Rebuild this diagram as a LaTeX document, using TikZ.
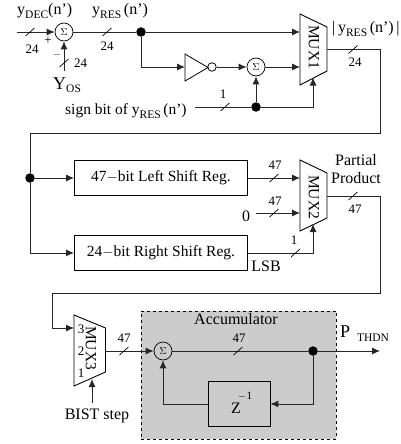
\documentclass[tikz,border=0pt]{standalone}
\usepackage{fontspec}
\setmainfont{Liberation Serif}
\usetikzlibrary{arrows.meta,calc}
\tikzset{
  wire/.style={line width=0.9pt,draw=black!85},
  arr/.style={wire,-{Latex[length=8pt,width=7pt]}},
  sumnode/.style={circle,draw,line width=0.7pt,minimum size=18pt,inner sep=0pt,font=\fontsize{10}{10}\selectfont},
  dotnode/.style={circle,fill=black,minimum size=9.5pt,inner sep=0pt},
  regbox/.style={draw,line width=0.9pt,anchor=north west,inner sep=0pt,font=\fontsize{15.5}{15.5}\selectfont},
  muxshape/.style={draw,line width=0.9pt},
  muxlabel/.style={rotate=-90,font=\fontsize{15.5}{16}\selectfont,inner sep=0pt},
  lab/.style={font=\fontsize{16}{16}\selectfont,inner sep=0pt},
  num/.style={font=\fontsize{13}{13}\selectfont,inner sep=0pt},
  slashmark/.style={line width=0.7pt,draw=black}
}
\newcommand{\slashat}[2]{\draw[slashmark] (#1-4.5,#2+4) -- (#1+4.5,#2-4);}
\newcommand{\sbs}[1]{\raisebox{-3.5pt}{\fontsize{11.5}{12}\selectfont #1}}
\begin{document}
\begin{tikzpicture}[x=1pt,y=-1pt]
\useasboundingbox (0,0) rectangle (401,444);
% accumulator background
\node[draw,dashed,fill=black!20,line width=0.9pt,anchor=north west,minimum width=195pt,minimum height=128.5pt,inner sep=0pt] (acc) at (141,310.5) {};
% mux shapes
\draw[muxshape] (300,14) coordinate (m1tl) -- (327,27) -- (327,71) -- (300,85) coordinate (m1bl) -- cycle;
\draw[muxshape] (300,160) coordinate (m2tl) -- (327,173) -- (327,218) -- (300,231) coordinate (m2bl) -- cycle;
\draw[muxshape] (74,315) coordinate (m3tl) -- (105.5,328) -- (105.5,372) -- (74,386) coordinate (m3bl) -- cycle;
\node[muxlabel] (m1t) at (314,47) {MUX1};
\node[muxlabel] (m2t) at (314,197) {MUX2};
\node[muxlabel] (m3t) at (91,348) {MUX3};
\node[num] (n3) at (81,329) {3};
\node[num] (n2) at (81,351) {2};
\node[num] (n1) at (81,373) {1};
% ports
\coordinate (m1a) at (300,32);
\coordinate (m1b) at (300,67);
\coordinate (m1s) at (313,77.5);
\coordinate (m1o) at (327,49.5);
\coordinate (m2a) at (300,178);
\coordinate (m2b) at (300,213);
\coordinate (m2s) at (313,224);
\coordinate (m2o) at (327,196);
\coordinate (m3a) at (74,328);
\coordinate (m3s) at (92,379);
\coordinate (m3o) at (105.5,351);
% nodes
\node[sumnode] (s1) at (64,32) {$\Sigma$};
\node[sumnode] (s2) at (256,67) {$\Sigma$};
\node[sumnode] (s3) at (163,351) {$\Sigma$};
\node[dotnode] (d1) at (141,32) {};
\node[dotnode] (d2) at (256,107) {};
\node[dotnode] (d3) at (30,178) {};
\node[dotnode] (d4) at (313,351) {};
\draw[line width=0.8pt] (185,54) coordinate (invt) -- (208,67.5) coordinate (inva) -- (185,81) coordinate (invb) -- cycle;
\coordinate (invin) at (185,67);
\node[circle,draw,line width=0.8pt,minimum size=8.5pt,inner sep=0pt] (bub) at (212,67) {};
\node[regbox,minimum width=173pt,minimum height=35pt] (r1) at (74,160) {47$-$bit Left Shift Reg.};
\node[regbox,minimum width=173pt,minimum height=35pt] (r2) at (74,235) {24$-$bit Right Shift Reg.};
\node[draw,line width=0.9pt,anchor=north west,minimum width=62pt,minimum height=45pt,inner sep=0pt] (z) at (207.5,381) {};
\node[lab] (zt) at (236,408) {Z};
\node[font=\fontsize{11}{11}\selectfont,inner sep=0pt] (zm) at (245,396) {$-$1};
% free ends
\coordinate (in) at (17,32);
\coordinate (yos) at (64,71);
\coordinate (sg) at (195,107);
\coordinate (zero) at (256,213);
\coordinate (bist) at (92,403);
\coordinate (pout) at (380,351);
% wires
\draw[arr] (in) -- (s1.west);
\draw[wire] (s1.east) -- (d1);
\draw[arr] (d1) -- (m1a);
\draw[arr] (d1) |- (invin);
\draw[wire] (inva) -- (bub);
\draw[arr] (bub) -- (s2.west);
\draw[arr] (s2.east) -- (m1b);
\draw[arr] (yos) -- (s1.south);
\draw[wire] (sg) -- (d2);
\draw[arr] (d2) -- (s2.south);
\draw[arr] (d2) -| (m1s);
\draw[arr] (d3) -- (r1.west |- d3);
\draw[wire] (m1o) -- (380,49.5) -- (380,133.5) -- (30,133.5) -- (d3);
\draw[arr] (d3) |- (r2.west);
\draw[arr] (r1.east |- m2a) -- (m2a);
\draw[arr] (zero) -- (m2b);
\draw[arr] (r2.east) -| (m2s);
\draw[arr] (m2o) -- (380,196) -- (380,293) -- (52,293) |- (m3a);
\draw[arr] (m3o) -- (s3.west);
\draw[arr] (bist) -- (m3s);
\draw[wire] (s3.east) -- (d4);
\draw[arr] (d4) -- (pout);
\draw[arr] (d4) |- (z.east);
\draw[arr] (z.west) -| (s3.south);
% slashes
\slashat{30}{32}
\slashat{64}{63}
\slashat{107}{32}
\slashat{225}{107}
\slashat{353}{49.5}
\slashat{274}{178}
\slashat{274}{213}
\slashat{295.5}{253}
\slashat{353}{196}
\slashat{124}{351}
\slashat{238}{351}
% labels
\node[num] (l1) at (32,49.5) {24};
\node[num] (l2) at (107,46) {24};
\node[num] (l3) at (80.5,63) {24};
\node[num] (l4) at (223,94) {1};
\node[num] (l5) at (355,62.5) {24};
\node[num] (l6) at (275,165) {47};
\node[num] (l7) at (275,201) {47};
\node[num] (l8) at (294,240) {1};
\node[num] (l9) at (355,209) {47};
\node[num] (l10) at (124,338) {47};
\node[num] (l11) at (239,338) {47};
\node[lab,font=\fontsize{13}{13}\selectfont] (plus) at (48,40.5) {+};
\node[font=\fontsize{10}{10}\selectfont,inner sep=0pt] (minus) at (57,54.5) {$-$};
\node[lab,anchor=west] (t1) at (17,11) {y\sbs{DEC}(n')};
\node[lab,anchor=west] (t2) at (92,11) {y\sbs{RES}\,(n')};
\node[lab,anchor=west,font=\fontsize{18}{18}\selectfont] (t3) at (53,85) {Y\sbs{OS}};
\node[lab,anchor=west,font=\fontsize{15.5}{16}\selectfont] (t4) at (65,111) {sign bit of y\sbs{RES}\,(n')};
\node[lab,anchor=west] (t5) at (332,29) {|\,y\sbs{RES}\,(n')\,|};
\node[lab] (t6) at (356,160) {Partial};
\node[lab] (t7) at (356,178) {Product};
\node[lab] (t8) at (246,216.5) {0};
\node[lab] (t9) at (266,266) {LSB};
\node[lab] (t10) at (97,416) {BIST step};
\node[lab] (t11) at (236,319) {Accumulator};
\node[lab,anchor=west,font=\fontsize{18}{18}\selectfont] (t12) at (340,332) {P};
\node[font=\fontsize{11.5}{12}\selectfont,inner sep=0pt] (t13) at (373,338) {THDN};
\end{tikzpicture}
\end{document}
